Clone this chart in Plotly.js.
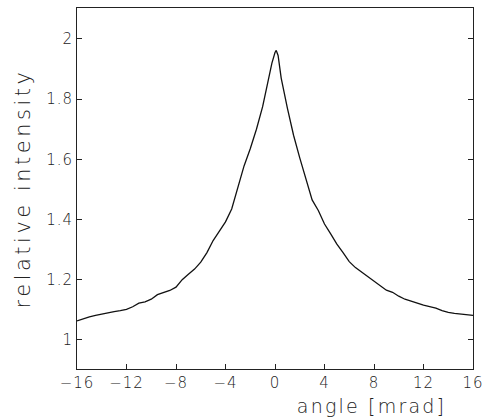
<!DOCTYPE html>
<html>
<head>
<meta charset="utf-8">
<script src="https://cdn.plot.ly/plotly-3.0.1.min.js"></script>
<style>
html,body{margin:0;padding:0;background:#fff;}
#chart{width:485px;height:420px;}
#chart .ytitle{letter-spacing:3.5px;}
#chart .annotation-text{letter-spacing:2.2px;}
#chart .xtick text, #chart .ytick text{letter-spacing:1px;}
</style>
</head>
<body>
<div id="chart"></div>
<script>
// angle [mrad]
const angle = [-16, -15.5, -15, -14.5, -14, -13.5, -13, -12.5, -12, -11.5, -11, -10.5, -10, -9.5, -9, -8.5, -8,
  -7.5, -7, -6.5, -6, -5.5, -5, -4.5, -4, -3.5, -3, -2.5, -2, -1.5, -1, -0.5, -0.25, 0, 0.1, 0.25, 0.5,
  1, 1.5, 2, 2.5, 3, 3.5, 4, 4.5, 5, 5.5, 6, 6.5, 7, 7.5, 8, 8.5, 9, 9.5, 10, 10.5, 11, 11.5, 12, 12.5,
  13, 13.5, 14, 14.5, 15, 15.5, 16];
// relative intensity
const intensity = [1.063, 1.070, 1.076, 1.081, 1.086, 1.090, 1.094, 1.097, 1.101, 1.110, 1.122, 1.126, 1.135,
  1.150, 1.157, 1.164, 1.175, 1.200, 1.218, 1.235, 1.258, 1.290, 1.330, 1.360, 1.392, 1.435, 1.505, 1.578,
  1.635, 1.700, 1.775, 1.870, 1.920, 1.955, 1.962, 1.945, 1.870, 1.770, 1.680, 1.605, 1.535, 1.465, 1.430,
  1.385, 1.352, 1.318, 1.290, 1.260, 1.240, 1.225, 1.211, 1.196, 1.180, 1.165, 1.158, 1.145, 1.135, 1.128,
  1.122, 1.115, 1.110, 1.105, 1.097, 1.091, 1.088, 1.086, 1.083, 1.081];
const xTicks = [-16, -12, -8, -4, 0, 4, 8, 12, 16];
const xTickText = ['\u221216', '\u221212', '\u22128', '\u22124', '0', '4', '8', '12', '16'];
const yTicks = [1, 1.2, 1.4, 1.6, 1.8, 2];
const yTickText = ['1', '1.2', '1.4', '1.6', '1.8', '2'];

const fontFam = '"DejaVu Sans", sans-serif';
const trace = {
  x: angle, y: intensity, type: 'scatter', mode: 'lines',
  line: {color: '#111', width: 1.3}, hoverinfo: 'none'
};
const layout = {
  width: 485, height: 420,
  margin: {l: 77, r: 12, t: 8, b: 51},
  paper_bgcolor: '#fff', plot_bgcolor: '#fff',
  showlegend: false,
  font: {family: fontFam, color: '#222', size: 15, weight: 300},
  xaxis: {
    range: [-16, 16], tickvals: xTicks, ticktext: xTickText,
    ticks: 'inside', ticklen: 5, tickcolor: '#222', tickwidth: 1,
    showline: true, linecolor: '#222', linewidth: 1, mirror: true,
    showgrid: false, zeroline: false,
    tickfont: {family: fontFam, size: 15, color: '#222', weight: 300}
  },
  yaxis: {
    range: [0.903, 2.103], tickvals: yTicks, ticktext: yTickText,
    ticks: 'inside', ticklen: 5, tickcolor: '#222', tickwidth: 1,
    showline: true, linecolor: '#222', linewidth: 1, mirror: 'ticks',
    showgrid: false, zeroline: false,
    tickfont: {family: fontFam, size: 15, color: '#222', weight: 300},
    title: {text: 'relative intensity', font: {family: fontFam, size: 21, color: '#222', weight: 200}, standoff: 12}
  },
  annotations: [{
    text: 'angle [mrad]', xref: 'paper', yref: 'paper',
    x: 0.905, xanchor: 'right', y: -0.103, yanchor: 'middle', showarrow: false,
    font: {family: fontFam, size: 19, color: '#222', weight: 200}
  }]
};
Plotly.newPlot('chart', [trace], layout, {staticPlot: true, displayModeBar: false});
</script>
</body>
</html>
